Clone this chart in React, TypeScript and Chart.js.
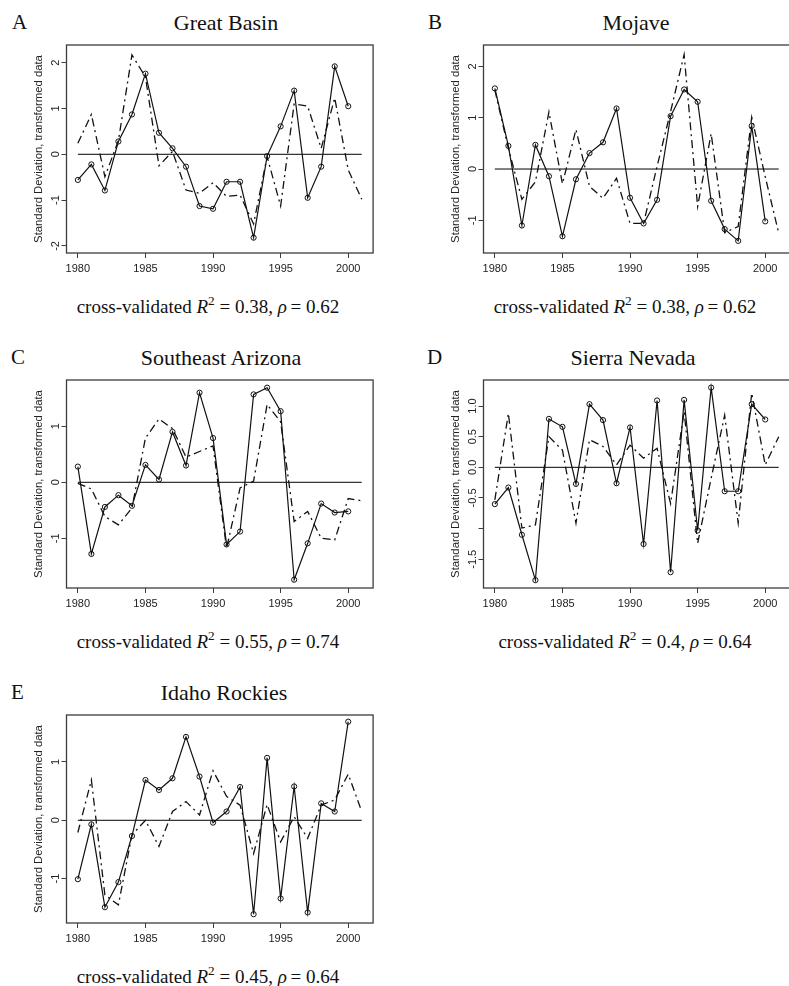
import React, { useEffect, useRef } from 'react';
import { Chart, registerables } from 'chart.js';

Chart.register(...registerables);

// ---------- data ----------
const yearsObs = [1980, 1981, 1982, 1983, 1984, 1985, 1986, 1987, 1988, 1989, 1990, 1991, 1992, 1993, 1994, 1995, 1996, 1997, 1998, 1999, 2000];
const yearsPred = [1980, 1981, 1982, 1983, 1984, 1985, 1986, 1987, 1988, 1989, 1990, 1991, 1992, 1993, 1994, 1995, 1996, 1997, 1998, 1999, 2000, 2001];
const zeroLineYears = [1980, 2001];
const xTickValues = [1980, 1985, 1990, 1995, 2000];
const xTickLabels = ['1980', '1985', '1990', '1995', '2000'];

const greatBasinObs = [-0.56, -0.22, -0.79, 0.28, 0.87, 1.76, 0.47, 0.13, -0.27, -1.13, -1.19, -0.60, -0.60, -1.82, -0.04, 0.61, 1.39, -0.95, -0.27, 1.92, 1.05];
const greatBasinPred = [0.24, 0.87, -0.49, 0.30, 2.17, 1.69, -0.25, 0.06, -0.78, -0.85, -0.62, -0.92, -0.89, -1.52, -0.05, -1.13, 1.10, 1.05, 0.13, 1.23, -0.34, -0.98];

const mojaveObs = [1.57, 0.45, -1.10, 0.47, -0.14, -1.31, -0.20, 0.31, 0.52, 1.18, -0.56, -1.06, -0.60, 1.03, 1.55, 1.31, -0.62, -1.17, -1.40, 0.84, -1.02];
const mojavePred = [1.54, 0.40, -0.59, -0.25, 1.11, -0.29, 0.77, -0.34, -0.57, -0.18, -1.06, -1.06, 0.05, 1.12, 2.23, -0.73, 0.69, -1.24, -1.12, 1.01, -0.15, -1.25];

const seArizonaObs = [0.28, -1.28, -0.44, -0.23, -0.42, 0.31, 0.05, 0.90, 0.30, 1.60, 0.79, -1.11, -0.88, 1.57, 1.69, 1.27, -1.74, -1.09, -0.38, -0.54, -0.52];
const seArizonaPred = [-0.02, -0.12, -0.61, -0.76, -0.46, 0.79, 1.13, 0.96, 0.45, 0.55, 0.65, -1.18, -0.10, 0.02, 1.39, 1.08, -0.70, -0.52, -1.00, -1.03, -0.29, -0.33];

const sierraObs = [-0.60, -0.33, -1.10, -1.84, 0.79, 0.66, -0.27, 1.03, 0.77, -0.26, 0.65, -1.25, 1.09, -1.71, 1.10, -1.03, 1.30, -0.39, -0.39, 1.03, 0.78];
const sierraPred = [-0.53, 0.88, -0.99, -0.94, 0.50, 0.28, -0.91, 0.45, 0.34, 0.04, 0.36, 0.15, 0.31, -0.59, 0.91, -1.24, -0.18, 0.85, -0.91, 1.21, 0.04, 0.50];

const idahoObs = [-1.01, -0.07, -1.49, -1.06, -0.27, 0.69, 0.52, 0.72, 1.43, 0.75, -0.04, 0.15, 0.57, -1.61, 1.07, -1.34, 0.58, -1.58, 0.29, 0.15, 1.69];
const idahoPred = [-0.21, 0.69, -1.28, -1.45, -0.25, 0.00, -0.45, 0.15, 0.32, 0.09, 0.85, 0.41, 0.26, -0.57, 0.27, -0.37, 0.06, -0.31, 0.26, 0.35, 0.79, 0.15];

const yTicksUnit = [-2, -1, 0, 1, 2];
const yLabelsUnit = ['-2', '-1', '0', '1', '2'];
const yTicksB = [-1, 0, 1, 2];
const yLabelsB = ['-1', '0', '1', '2'];
const yTicksOne = [-1, 0, 1];
const yLabelsOne = ['-1', '0', '1'];
const yTicksD = [-1.5, -1.0, -0.5, 0.0, 0.5, 1.0];
const yLabelsD = ['-1.5', '', '-0.5', '0.0', '0.5', '1.0'];

const panelLetters = ['A', 'B', 'C', 'D', 'E'];
const panelTitles = ['Great Basin', 'Mojave', 'Southeast Arizona', 'Sierra Nevada', 'Idaho Rockies'];
const r2Values = ['0.38', '0.38', '0.55', '0.4', '0.45'];
const rhoValues = ['0.62', '0.62', '0.74', '0.64', '0.64'];
const yAxisTitle = 'Standard Deviation, transformed data';

// ---------- styling / layout ----------
const SANS = '"Liberation Sans", Arial, Helvetica, sans-serif';
const SERIF = '"Liberation Serif", "Times New Roman", Times, serif';

const CANVAS_W = 395;
const CANVAS_H = 258;
const AXIS_W = 66.5;
const XAXIS_H = 40;
const PAD_TOP = 10;
const PAD_RIGHT = CANVAS_W - AXIS_W - 306.6;

type PanelDef = {
  obs: number[];
  pred: number[];
  yTicks: number[];
  yLabels: string[];
  yMin: number;
  yMax: number;
  labelPad: number;
  left: number;
  top: number;
  titleCx: number;
  captionCx: number;
};

const panels: PanelDef[] = [
  { obs: greatBasinObs, pred: greatBasinPred, yTicks: yTicksUnit, yLabels: yLabelsUnit, yMin: -2.155, yMax: 2.386, labelPad: 0.6, left: 0, top: 35, titleCx: 226, captionCx: 208 },
  { obs: mojaveObs, pred: mojavePred, yTicks: yTicksB, yLabels: yLabelsB, yMin: -1.636, yMax: 2.416, labelPad: 0.6, left: 417.1, top: 35, titleCx: 636, captionCx: 625 },
  { obs: seArizonaObs, pred: seArizonaPred, yTicks: yTicksOne, yLabels: yLabelsOne, yMin: -1.888, yMax: 1.827, labelPad: 0.6, left: 0, top: 370, titleCx: 221, captionCx: 208 },
  { obs: sierraObs, pred: sierraPred, yTicks: yTicksD, yLabels: yLabelsD, yMin: -1.968, yMax: 1.424, labelPad: -4, left: 417.1, top: 370, titleCx: 633, captionCx: 625 },
  { obs: idahoObs, pred: idahoPred, yTicks: yTicksOne, yLabels: yLabelsOne, yMin: -1.761, yMax: 1.805, labelPad: 0.6, left: 0, top: 705, titleCx: 224, captionCx: 208 },
];

const framePlugin = {
  id: 'frameBox',
  afterDraw(chart: any) {
    const { ctx, chartArea: a } = chart;
    ctx.save();
    ctx.strokeStyle = '#3c3c3c';
    ctx.lineWidth = 1.3;
    ctx.strokeRect(a.left, a.top, a.right - a.left, a.bottom - a.top);
    ctx.restore();
  },
};

function Panel({ p }: { p: PanelDef }) {
  const ref = useRef<HTMLCanvasElement | null>(null);
  useEffect(() => {
    if (!ref.current) return;
    const chart = new Chart(ref.current, {
      type: 'line',
      data: {
        datasets: [
          {
            label: 'observed',
            data: yearsObs.map((yr, i) => ({ x: yr, y: p.obs[i] })),
            borderColor: '#111',
            borderWidth: 1.2,
            pointRadius: 2.6,
            pointBorderWidth: 1,
            pointBorderColor: '#111',
            pointBackgroundColor: 'rgba(0,0,0,0)',
            pointStyle: 'circle',
            tension: 0,
          },
          {
            label: 'predicted',
            data: yearsPred.map((yr, i) => ({ x: yr, y: p.pred[i] })),
            borderColor: '#111',
            borderWidth: 1.3,
            borderDash: [8, 4, 2, 4],
            pointRadius: 0,
            tension: 0,
          },
          {
            label: 'zero',
            data: zeroLineYears.map((yr) => ({ x: yr, y: 0 })),
            borderColor: '#000',
            borderWidth: 1,
            pointRadius: 0,
            tension: 0,
          },
        ],
      },
      options: {
        animation: false,
        responsive: false,
        maintainAspectRatio: false,
        devicePixelRatio: 1,
        layout: { padding: { left: 0, right: PAD_RIGHT, top: PAD_TOP, bottom: 0 } },
        plugins: { legend: { display: false }, tooltip: { enabled: false }, title: { display: false } },
        scales: {
          x: {
            type: 'linear',
            min: 1979.16,
            max: 2001.84,
            afterBuildTicks: (s: any) => {
              s.ticks = xTickValues.map((v) => ({ value: v }));
            },
            afterFit: (s: any) => {
              s.height = XAXIS_H;
            },
            grid: { display: true, drawOnChartArea: false, drawTicks: true, tickLength: 5, color: '#3c3c3c', lineWidth: 1 },
            border: { display: false },
            ticks: {
              autoSkip: false,
              maxRotation: 0,
              minRotation: 0,
              padding: 4,
              color: '#222',
              font: { family: SANS, size: 11 },
              callback: (_v: any, i: number) => xTickLabels[i],
            },
          },
          y: {
            type: 'linear',
            min: p.yMin,
            max: p.yMax,
            afterBuildTicks: (s: any) => {
              s.ticks = p.yTicks.map((v) => ({ value: v }));
            },
            afterFit: (s: any) => {
              s.width = AXIS_W;
            },
            grid: { display: true, drawOnChartArea: false, drawTicks: true, tickLength: 5, color: '#3c3c3c', lineWidth: 1 },
            border: { display: false },
            ticks: {
              autoSkip: false,
              minRotation: 90,
              maxRotation: 90,
              crossAlign: 'center',
              padding: p.labelPad,
              color: '#222',
              font: { family: SANS, size: 11 },
              callback: (_v: any, i: number) => p.yLabels[i],
            },
            title: {
              display: true,
              text: yAxisTitle,
              color: '#222',
              font: { family: SANS, size: 11.3, lineHeight: 1.2 },
              padding: { top: 32.2, bottom: 0 },
            },
          },
        },
      } as any,
      plugins: [framePlugin],
    });
    return () => chart.destroy();
  }, [p]);
  return (
    <canvas
      ref={ref}
      width={CANVAS_W}
      height={CANVAS_H}
      style={{ position: 'absolute', left: p.left, top: p.top, width: CANVAS_W, height: CANVAS_H, display: 'block' }}
    />
  );
}

export default function App() {
  const rowBase = [0, 0, 335, 335, 670];
  const letterLeft = [12, 428, 11, 427, 11];
  const capSize = 19;
  return (
    <div
      style={{
        position: 'absolute',
        left: 0,
        top: 0,
        width: 789,
        height: 986,
        overflow: 'hidden',
        background: '#fff',
      }}
    >
      {panels.map((p, i) => (
        <React.Fragment key={i}>
          <Panel p={p} />
          <div
            style={{
              position: 'absolute',
              left: letterLeft[i],
              top: rowBase[i] + 30 - 0.8375 * 21,
              fontFamily: SERIF,
              fontSize: 21,
              fontWeight: 'normal',
              lineHeight: 1,
              color: '#111',
              whiteSpace: 'nowrap',
            }}
          >
            {panelLetters[i]}
          </div>
          <div
            style={{
              position: 'absolute',
              left: p.titleCx - 200,
              width: 400,
              textAlign: 'center',
              top: rowBase[i] + 30 - 0.8375 * 22,
              fontFamily: SERIF,
              fontSize: 22,
              fontWeight: 'normal',
              lineHeight: 1,
              color: '#111',
              whiteSpace: 'nowrap',
            }}
          >
            {panelTitles[i]}
          </div>
          <div
            style={{
              position: 'absolute',
              left: p.captionCx - 200,
              width: 400,
              textAlign: 'center',
              top: rowBase[i] + 313 - 0.8375 * capSize,
              fontFamily: SERIF,
              fontSize: capSize,
              fontWeight: 'normal',
              lineHeight: 1,
              color: '#111',
              whiteSpace: 'nowrap',
            }}
          >
            cross-validated <i>R</i>
            <span style={{ fontSize: '0.7em', position: 'relative', top: '-0.6em', lineHeight: 0 }}>2</span>
            {' = ' + r2Values[i] + ', '}
            <i>ρ</i>
            {'\u2009= ' + rhoValues[i]}
          </div>
        </React.Fragment>
      ))}
    </div>
  );
}
